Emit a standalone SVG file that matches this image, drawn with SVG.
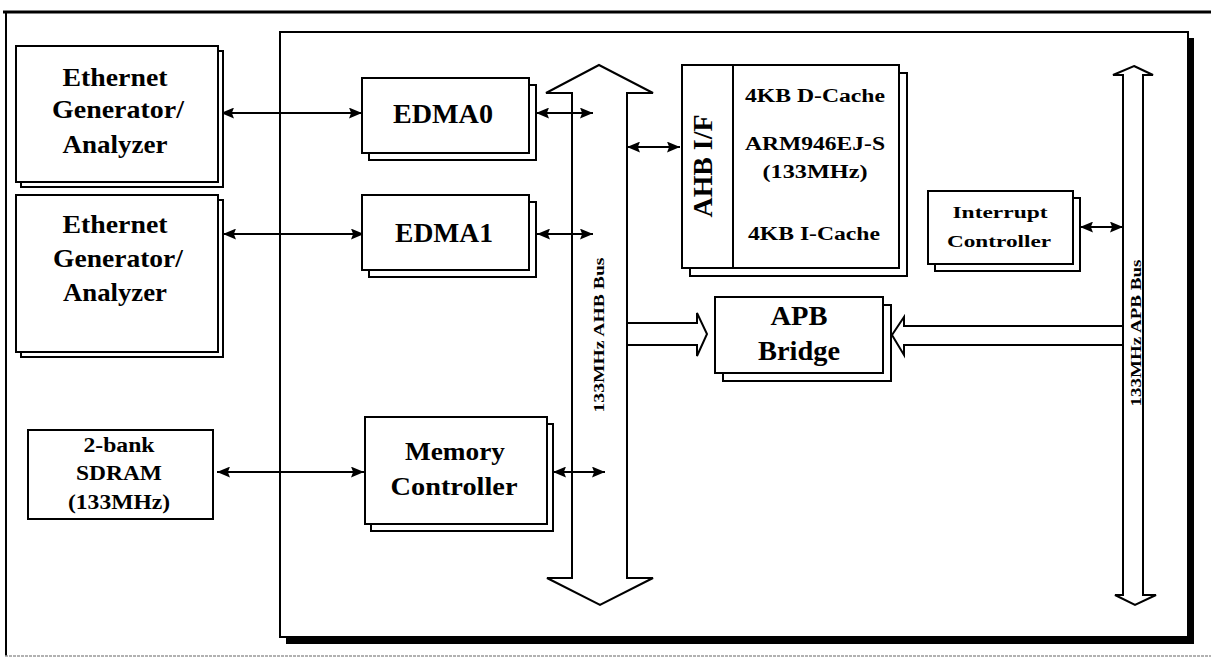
<svg xmlns="http://www.w3.org/2000/svg" width="1212" height="658" viewBox="0 0 1212 658">
  <style>
    .box { fill: #fff; stroke: #000; stroke-width: 2; }
    .shadow { fill: #fff; stroke: #000; stroke-width: 2; }
    .bus { fill: #fff; stroke: #000; stroke-width: 2; stroke-linejoin: miter; }
    .link { fill: none; stroke: #000; stroke-width: 2; }
    .lbl { font-family: "Liberation Serif", "Times New Roman", serif; font-weight: bold; fill: #000; text-anchor: middle; }
  </style>
  <defs>
    <marker id="head" viewBox="0 0 12 10" markerWidth="13" markerHeight="11" refX="12" refY="5" orient="auto-start-reverse" markerUnits="userSpaceOnUse">
      <path d="M0,0 L12,5 L0,10 L2,5 Z" fill="#000"/>
    </marker>
  </defs>

  <rect width="1212" height="658" fill="#fff"/>

  <!-- outer frame -->
  <g id="frame">
    <line x1="3" y1="12" x2="1211" y2="12" stroke="#000" stroke-width="3"/>
    <line x1="6" y1="11" x2="6" y2="656" stroke="#000" stroke-width="2"/>
    <line x1="5" y1="656" x2="1211" y2="656" stroke="#999" stroke-width="1.5" stroke-dasharray="3 1"/>
  </g>

  <!-- chip boundary with drop shadow -->
  <g id="chip">
    <rect x="286" y="38" width="908" height="606" fill="#000"/>
    <rect x="280" y="32" width="908" height="605" class="box"/>
  </g>

  <!-- buses -->
  <g id="ahb-bus">
    <path class="bus" d="M599,65 L653,93 L627,93 L627,578 L653,578 L600,605 L547,578 L572,578 L572,93 L546,93 Z"/>
    <text class="lbl" font-size="14" textLength="155" lengthAdjust="spacingAndGlyphs" transform="translate(604,335) rotate(-90)">133MHz AHB Bus</text>
  </g>
  <g id="apb-bus">
    <path class="bus" d="M1134,66 L1153,75 L1143,75 L1143,595 L1156,595 L1135,605 L1115,595 L1123,595 L1123,75 L1113,75 Z"/>
    <text class="lbl" font-size="14" textLength="147" lengthAdjust="spacingAndGlyphs" transform="translate(1141,333) rotate(-90)">133MHz APB Bus</text>
  </g>

  <!-- connectors -->
  <g id="connectors">
    <line class="link" x1="221" y1="113" x2="362" y2="113" marker-start="url(#head)" marker-end="url(#head)"/>
    <line class="link" x1="223" y1="234" x2="364" y2="234" marker-start="url(#head)" marker-end="url(#head)"/>
    <line class="link" x1="217" y1="472" x2="364" y2="472" marker-start="url(#head)" marker-end="url(#head)"/>
    <line class="link" x1="536" y1="113" x2="593" y2="113" marker-start="url(#head)" marker-end="url(#head)"/>
    <line class="link" x1="537" y1="234" x2="593" y2="234" marker-start="url(#head)" marker-end="url(#head)"/>
    <line class="link" x1="553" y1="472" x2="605" y2="472" marker-start="url(#head)" marker-end="url(#head)"/>
    <line class="link" x1="627" y1="147" x2="680" y2="147" marker-start="url(#head)" marker-end="url(#head)"/>
    <line class="link" x1="1080" y1="227" x2="1123" y2="227" marker-start="url(#head)" marker-end="url(#head)"/>
    <!-- wide arrows into the bridge -->
    <path class="bus" d="M627,323 L697,323 L697,313 L707,334 L697,356 L697,345 L627,345 Z"/>
    <path class="bus" d="M1123,326 L904,326 L904,317 L892,335 L904,355 L904,345 L1123,345 Z"/>
  </g>

  <!-- nodes -->
  <g id="eth-gen-0">
    <rect class="shadow" x="21" y="51" width="202" height="136"/>
    <rect class="box" x="16" y="46" width="202" height="136"/>
    <text class="lbl" font-size="25" x="115" y="86" textLength="105" lengthAdjust="spacingAndGlyphs">Ethernet</text>
    <text class="lbl" font-size="25" x="118" y="118" textLength="132" lengthAdjust="spacingAndGlyphs">Generator/</text>
    <text class="lbl" font-size="25" x="115" y="153" textLength="105" lengthAdjust="spacingAndGlyphs">Analyzer</text>
  </g>

  <g id="eth-gen-1">
    <rect class="shadow" x="21" y="200" width="202" height="157"/>
    <rect class="box" x="16" y="195" width="202" height="157"/>
    <text class="lbl" font-size="25" x="115" y="233" textLength="105" lengthAdjust="spacingAndGlyphs">Ethernet</text>
    <text class="lbl" font-size="25" x="118" y="267" textLength="130" lengthAdjust="spacingAndGlyphs">Generator/</text>
    <text class="lbl" font-size="25" x="115" y="301" textLength="104" lengthAdjust="spacingAndGlyphs">Analyzer</text>
  </g>

  <g id="edma0">
    <rect class="shadow" x="369" y="85" width="167" height="75"/>
    <rect class="box" x="362" y="78" width="167" height="75"/>
    <text class="lbl" font-size="27" x="443" y="123" textLength="100" lengthAdjust="spacingAndGlyphs">EDMA0</text>
  </g>

  <g id="edma1">
    <rect class="shadow" x="369" y="202" width="167" height="75"/>
    <rect class="box" x="362" y="195" width="167" height="75"/>
    <text class="lbl" font-size="27" x="444" y="242" textLength="98" lengthAdjust="spacingAndGlyphs">EDMA1</text>
  </g>

  <g id="sdram">
    <rect class="box" x="28" y="430" width="185" height="89"/>
    <text class="lbl" font-size="20" x="119" y="452" textLength="71" lengthAdjust="spacingAndGlyphs">2-bank</text>
    <text class="lbl" font-size="21" x="119" y="480" textLength="86" lengthAdjust="spacingAndGlyphs">SDRAM</text>
    <text class="lbl" font-size="21" x="119" y="509" textLength="102" lengthAdjust="spacingAndGlyphs">(133MHz)</text>
  </g>

  <g id="memory-controller">
    <rect class="shadow" x="371" y="424" width="182" height="107"/>
    <rect class="box" x="365" y="417" width="182" height="107"/>
    <text class="lbl" font-size="25" x="455" y="460" textLength="100" lengthAdjust="spacingAndGlyphs">Memory</text>
    <text class="lbl" font-size="25" x="454" y="495" textLength="127" lengthAdjust="spacingAndGlyphs">Controller</text>
  </g>

  <g id="arm-core">
    <rect class="shadow" x="690" y="73" width="217" height="203"/>
    <rect class="box" x="682" y="65" width="217" height="203"/>
    <line x1="733" y1="65" x2="733" y2="268" stroke="#000" stroke-width="2"/>
    <text class="lbl" font-size="28" textLength="103" lengthAdjust="spacingAndGlyphs" transform="translate(712,166) rotate(-90)">AHB I/F</text>
    <text class="lbl" font-size="18" x="815" y="102" textLength="140" lengthAdjust="spacingAndGlyphs">4KB D-Cache</text>
    <text class="lbl" font-size="18" x="815" y="150" textLength="140" lengthAdjust="spacingAndGlyphs">ARM946EJ-S</text>
    <text class="lbl" font-size="18" x="815" y="178" textLength="105" lengthAdjust="spacingAndGlyphs">(133MHz)</text>
    <text class="lbl" font-size="18" x="814" y="240" textLength="132" lengthAdjust="spacingAndGlyphs">4KB I-Cache</text>
  </g>

  <g id="interrupt-controller">
    <rect class="shadow" x="935" y="198" width="145" height="73"/>
    <rect class="box" x="928" y="191" width="145" height="73"/>
    <text class="lbl" font-size="17" x="1000" y="218" textLength="95" lengthAdjust="spacingAndGlyphs">Interrupt</text>
    <text class="lbl" font-size="17" x="999" y="247" textLength="104" lengthAdjust="spacingAndGlyphs">Controller</text>
  </g>

  <g id="apb-bridge">
    <rect class="shadow" x="723" y="305" width="168" height="76"/>
    <rect class="box" x="715" y="297" width="168" height="76"/>
    <text class="lbl" font-size="27" x="799" y="325" textLength="57" lengthAdjust="spacingAndGlyphs">APB</text>
    <text class="lbl" font-size="27" x="799" y="360" textLength="82" lengthAdjust="spacingAndGlyphs">Bridge</text>
  </g>
</svg>
